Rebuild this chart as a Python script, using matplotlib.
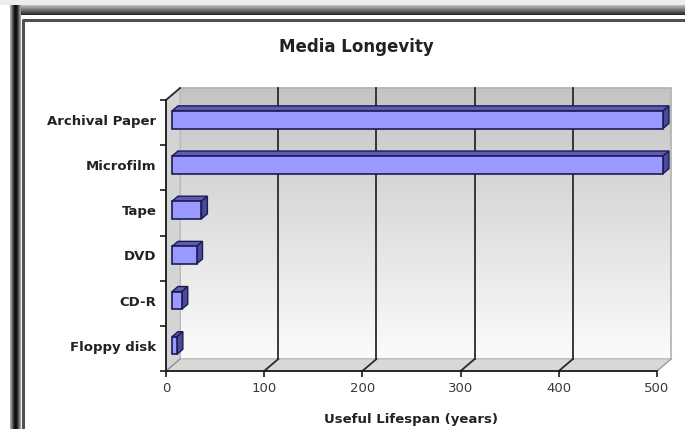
import numpy as np
import matplotlib.pyplot as plt
from matplotlib.patches import Polygon, Rectangle

# Useful lifespan per storage medium (years), bottom to top
media = ['Floppy disk', 'CD-R', 'DVD', 'Tape', 'Microfilm', 'Archival Paper']
lifespan = [5, 10, 25, 30, 500, 500]
x_ticks = [0, 100, 200, 300, 400, 500]

TITLE = 'Media Longevity'
XLABEL = 'Useful Lifespan (years)'

# 3-D look: depth of the plot box in data units (x in years, y in categories)
DX, DY = 14.3, 0.265
BAR_FRONT, BAR_BACK = 0.43, 0.85
BAR_HALF = 0.195

FACE = '#9999ff'
TOP = '#5c5cb8'
SIDE = '#4a4a9c'
EDGE = '#1c1c50'
FONT = 'DejaVu Sans'


def vertical_gradient(top_grey, bottom_grey, steps=64):
    """RGB column going from bottom_grey (row 0) to top_grey (last row)."""
    g = np.linspace(bottom_grey, top_grey, steps)
    return np.repeat(g[:, None, None], 3, axis=2)


W, H = 685, 429
fig = plt.figure(figsize=(W / 100, H / 100), dpi=100)
fig.patch.set_facecolor('white')

# window frame around the chart, in pixel coordinates
frame = fig.add_axes([0, 0, 1, 1])
frame.axis('off')
frame.add_patch(Rectangle((0, 0), W, 5, color='#ececec', lw=0))
top_band = vertical_gradient(0.75, 0.15, 20)
frame.imshow(top_band, extent=(10, W, 15, 5), aspect='auto', origin='lower',
             interpolation='bilinear')
left_vals = np.array([0.65, 0.4, 0.15, 0.05, 0.1, 0.35, 0.6])
left_band = np.repeat(left_vals[None, :, None], 3, axis=2)
frame.imshow(left_band, extent=(10, 21, H, 5), aspect='auto', interpolation='bilinear')
frame.plot([23.5, 23.5, W], [H, 19.5, 19.5], color='#505050', lw=2.2)
frame.set_xlim(0, W)
frame.set_ylim(H, 0)

ax = fig.add_axes([166 / W, 1 - 371 / H, 491 / W, 271 / H])
ax.set_facecolor('none')
n = len(media)
xmax = x_ticks[-1]

# back wall with vertical gradient, grey at the top fading to white
ax.imshow(vertical_gradient(0.77, 0.985), extent=(DX, xmax + DX, DY, n + DY),
          aspect='auto', origin='lower', clip_on=False, zorder=0, interpolation='bilinear')
ax.add_patch(Rectangle((DX, DY), xmax, n, fill=False, ec='#b0b0b0', lw=1.2,
                       clip_on=False, zorder=1))

# left side wall
side = Polygon([(0, 0), (DX, DY), (DX, n + DY), (0, n)], closed=True,
               fc='#d4d4d4', ec='#bcbcbc', lw=0.8, clip_on=False, zorder=1)
ax.add_patch(side)

# floor
floor = Polygon([(0, 0), (xmax, 0), (xmax + DX, DY), (DX, DY)], closed=True,
                fc='#d8d8d8', ec='#c0c0c0', lw=0.8, clip_on=False, zorder=1)
ax.add_patch(floor)

# gridlines on the back wall and the floor
for v in x_ticks[1:-1]:
    ax.plot([v + DX, v + DX], [DY, n + DY], color='#2a2a2a', lw=1.3, clip_on=False, zorder=2)
    ax.plot([v, v + DX], [0, DY], color='#2a2a2a', lw=1.3, clip_on=False, zorder=2)
ax.plot([0, DX], [n, n + DY], color='#2a2a2a', lw=1.3, clip_on=False, zorder=2)
ax.plot([0, DX], [0, DY], color='#909090', lw=1.0, clip_on=False, zorder=2)
ax.plot([xmax, xmax + DX], [0, DY], color='#a0a0a0', lw=1.0, clip_on=False, zorder=2)

# bars drawn as boxes sitting inside the depth
for i, v in enumerate(lifespan):
    yb, yt = i + 0.45 - BAR_HALF, i + 0.45 + BAR_HALF
    xf, yf = BAR_FRONT * DX, BAR_FRONT * DY
    xb, yb2 = BAR_BACK * DX, BAR_BACK * DY
    top = Polygon([(xf, yt + yf), (v + xf, yt + yf), (v + xb, yt + yb2), (xb, yt + yb2)],
                  closed=True, fc=TOP, ec=EDGE, lw=1.0, clip_on=False, zorder=4)
    cap = Polygon([(v + xf, yb + yf), (v + xf, yt + yf), (v + xb, yt + yb2), (v + xb, yb + yb2)],
                  closed=True, fc=SIDE, ec=EDGE, lw=1.0, clip_on=False, zorder=4)
    ax.add_patch(top)
    ax.add_patch(cap)
    ax.barh(i + 0.45 + yf, v, height=2 * BAR_HALF, left=xf, color=FACE, edgecolor=EDGE,
            linewidth=1.2, zorder=5, clip_on=False)

ax.set_xlim(0, xmax)
ax.set_ylim(0, n)

for s in ['top', 'right']:
    ax.spines[s].set_visible(False)
for s in ['left', 'bottom']:
    ax.spines[s].set_color('#1a1a1a')
    ax.spines[s].set_linewidth(1.3)
    ax.spines[s].set_zorder(6)

ax.set_xticks(x_ticks)
ax.set_xticklabels([str(t) for t in x_ticks], fontsize=9.5, color='#3a3a3a', family=FONT)
ax.tick_params(axis='x', length=4, width=1.2, color='#1a1a1a', pad=4)
ax.set_yticks(np.arange(n + 1))
ax.set_yticklabels([])
ax.tick_params(axis='y', which='major', length=4, width=1.2, color='#1a1a1a')
ax.set_yticks(np.arange(n) + 0.56, minor=True)
ax.set_yticklabels(media, minor=True, fontsize=9.5, fontweight='bold', color='#222222',
                   family=FONT)
ax.tick_params(axis='y', which='minor', length=0, pad=7)

fig.text(411 / W, 1 - 419 / H, XLABEL, ha='center', va='center', fontsize=9.5,
         fontweight='bold', color='#222222', family=FONT)
fig.text(356 / W, 1 - 47 / H, TITLE, ha='center', va='center', fontsize=12,
         fontweight='bold', color='#222222', family=FONT)

fig.savefig('out.png', dpi=100, facecolor='white')
